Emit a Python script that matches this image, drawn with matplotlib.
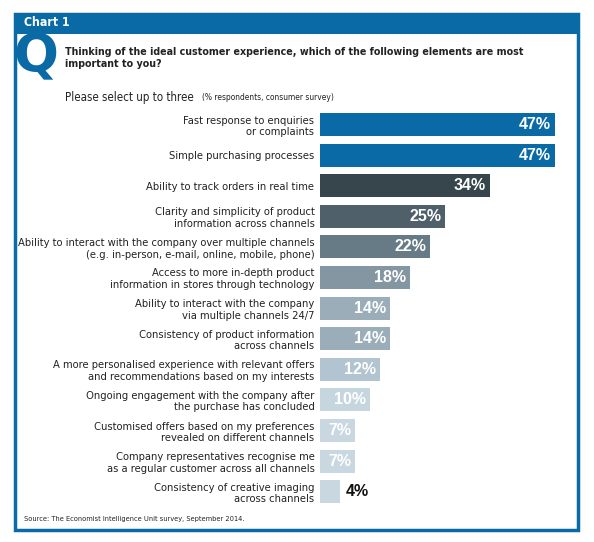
import numpy as np
import matplotlib.pyplot as plt
from matplotlib.patches import Rectangle

# Data
labels = [
    'Fast response to enquiries\nor complaints',
    'Simple purchasing processes',
    'Ability to track orders in real time',
    'Clarity and simplicity of product\ninformation across channels',
    'Ability to interact with the company over multiple channels\n(e.g. in-person, e-mail, online, mobile, phone)',
    'Access to more in-depth product\ninformation in stores through technology',
    'Ability to interact with the company\nvia multiple channels 24/7',
    'Consistency of product information\nacross channels',
    'A more personalised experience with relevant offers\nand recommendations based on my interests',
    'Ongoing engagement with the company after\nthe purchase has concluded',
    'Customised offers based on my preferences\nrevealed on different channels',
    'Company representatives recognise me\nas a regular customer across all channels',
    'Consistency of creative imaging\nacross channels',
]
values = [47, 47, 34, 25, 22, 18, 14, 14, 12, 10, 7, 7, 4]
bar_colors = ['#0A6AA6', '#0A6AA6', '#37454D', '#4F606B', '#677B86', '#8496A1',
              '#9AADB8', '#9AADB8', '#B1C4CF', '#C6D6DF', '#C8D7E0', '#C8D7E0', '#C8D7E0']

W, H = 594, 542
blue = '#0A6AA6'
narrow = ['DejaVu Sans']

fig = plt.figure(figsize=(W / 100, H / 100), dpi=100)

def fx(px):
    return px / W

def fy(py):
    return 1 - py / H

# Frame and header band
fig.patches.append(Rectangle((fx(15), fy(530)), fx(578) - fx(15), fy(14) - fy(530),
                             transform=fig.transFigure, fill=False,
                             edgecolor=blue, linewidth=2.5))
fig.patches.append(Rectangle((fx(15), fy(34)), fx(578) - fx(15), fy(13) - fy(34),
                             transform=fig.transFigure, facecolor=blue,
                             edgecolor='none'))
fig.text(fx(24), fy(23), 'Chart 1', color='white', fontsize=8.8, fontweight='bold',
         va='center', ha='left', family=narrow, fontstretch='condensed')
fig.text(fx(36), fy(57), 'Q', color=blue, fontsize=38, fontweight='bold',
         va='center', ha='center', family=narrow)

fig.text(fx(65), fy(58), 'Thinking of the ideal customer experience, which of the following elements are most\nimportant to you?',
         color='#222222', fontsize=7.7, fontweight='bold', va='center', ha='left',
         family=narrow, fontstretch='condensed', linespacing=1.35)
fig.text(fx(65), fy(97), 'Please select up to three', color='#222222', fontsize=8.3,
         va='center', ha='left', family=narrow, fontstretch='condensed')
fig.text(fx(202), fy(98), '(% respondents, consumer survey)', color='#222222', fontsize=6,
         va='center', ha='left', family=narrow, fontstretch='condensed')
fig.text(fx(24), fy(519), 'Source: The Economist Intelligence Unit survey, September 2014.',
         color='#222222', fontsize=5.3, va='center', ha='left', family=narrow,
         fontstretch='condensed')

# Bars
pitch = 30.6
top = 124.5 - pitch / 2
n = len(values)
ax = fig.add_axes([fx(320), fy(top + pitch * n), fx(555) - fx(320), pitch * n / H])
y = np.arange(n)
ax.barh(y, values, height=0.75, color=bar_colors)
ax.set_xlim(0, 47)
ax.set_ylim(n - 0.5, -0.5)
ax.set_yticks(y)
ax.set_yticklabels(labels, family=narrow, fontstretch='condensed', fontsize=8,
                   color='#222222', linespacing=1.2)
ax.tick_params(axis='y', length=0, pad=4)
ax.set_xticks([])
for s in ax.spines.values():
    s.set_visible(False)
ax.patch.set_alpha(0)

for i, v in enumerate(values):
    if v >= 7:
        ax.text(v - 0.8, i, f'{v}%', color='white', fontsize=11.5, fontweight='bold',
                va='center', ha='right', family=['Liberation Sans', 'DejaVu Sans'])
    else:
        ax.text(v + 1.2, i, f'{v}%', color='#111111', fontsize=11.5, fontweight='bold',
                va='center', ha='left', family=['Liberation Sans', 'DejaVu Sans'])

fig.savefig('out.png', dpi=100)
